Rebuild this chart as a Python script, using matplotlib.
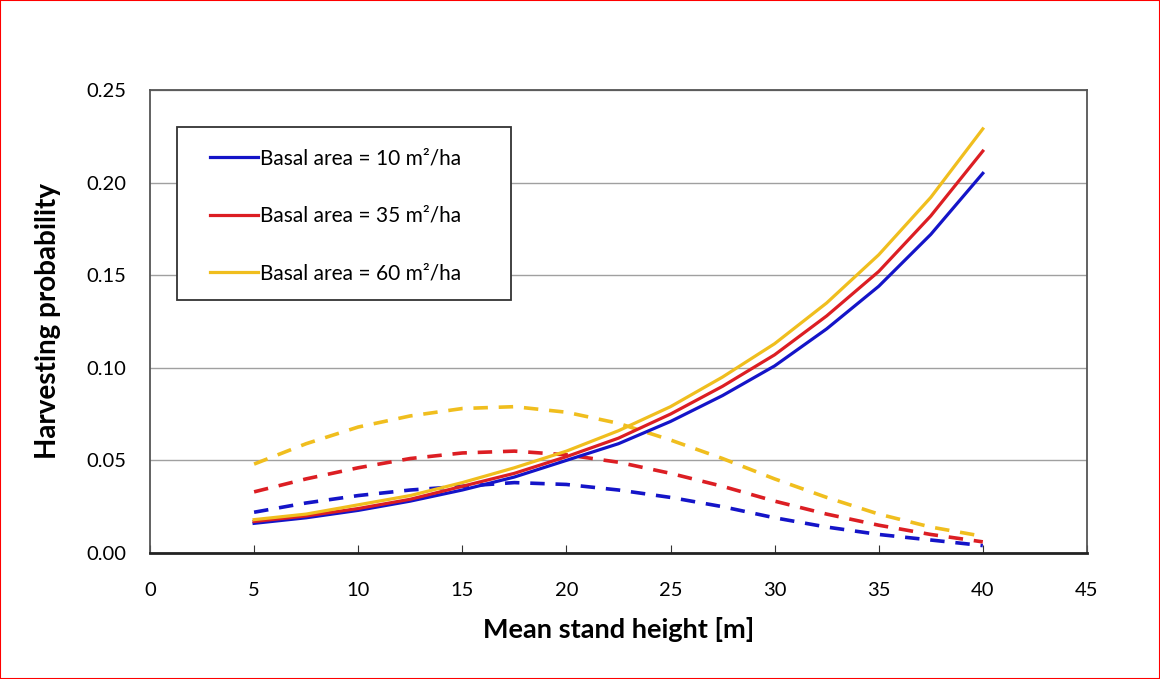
import numpy as np
import matplotlib
matplotlib.use("Agg")
import matplotlib.pyplot as plt
from matplotlib.patches import Rectangle

plt.rcParams['font.family'] = ['Lato', 'DejaVu Sans']

height = [5, 7.5, 10, 12.5, 15, 17.5, 20, 22.5, 25, 27.5, 30, 32.5, 35, 37.5, 40]

# solid curves
ba10_solid = [0.016, 0.019, 0.023, 0.028, 0.034, 0.041, 0.050, 0.059, 0.071, 0.085, 0.101, 0.121, 0.144, 0.172, 0.205]
ba35_solid = [0.017, 0.020, 0.024, 0.029, 0.036, 0.043, 0.052, 0.062, 0.075, 0.090, 0.107, 0.128, 0.152, 0.182, 0.217]
ba60_solid = [0.018, 0.021, 0.026, 0.031, 0.038, 0.046, 0.055, 0.066, 0.079, 0.095, 0.113, 0.135, 0.161, 0.192, 0.229]

# dashed curves
ba10_dash = [0.022, 0.027, 0.031, 0.034, 0.036, 0.038, 0.037, 0.034, 0.030, 0.025, 0.019, 0.014, 0.010, 0.007, 0.004]
ba35_dash = [0.033, 0.040, 0.046, 0.051, 0.054, 0.055, 0.053, 0.049, 0.043, 0.036, 0.028, 0.021, 0.015, 0.010, 0.006]
ba60_dash = [0.048, 0.059, 0.068, 0.074, 0.078, 0.079, 0.076, 0.070, 0.061, 0.051, 0.040, 0.030, 0.021, 0.014, 0.009]

labels = ['Basal area = 10 m²/ha', 'Basal area = 35 m²/ha', 'Basal area = 60 m²/ha']
colors = ['#1414C8', '#DC1E23', '#F0BE1E']

fig = plt.figure(figsize=(11.6, 6.79), dpi=100)
ax = fig.add_axes([0.1293, 0.1856, 0.8077, 0.6819])

for ys, c in zip([ba10_dash, ba35_dash, ba60_dash], colors):
    ax.plot(height, ys, color=c, lw=2.6, dashes=(4, 3), zorder=3)
for ys, c, lab in zip([ba10_solid, ba35_solid, ba60_solid], colors, labels):
    ax.plot(height, ys, color=c, lw=2.3, label=lab, zorder=4, solid_joinstyle='round')

ax.set_xlim(0, 45)
ax.set_ylim(0, 0.25)
ax.set_xticks(np.arange(0, 46, 5))
ax.set_yticks(np.arange(0, 0.26, 0.05))
ax.set_yticklabels(['0.00', '0.05', '0.10', '0.15', '0.20', '0.25'])
ax.yaxis.grid(True, color='#a0a0a0', lw=1)
ax.set_axisbelow(True)
ax.tick_params(axis='x', direction='in', length=6, labelsize=14.5, pad=21, color='#333333')
ax.tick_params(axis='y', length=0, labelsize=14.5, pad=17)
for s in ax.spines.values():
    s.set_color('#555555')
    s.set_linewidth(1.3)
ax.spines['bottom'].set_color('#222222')
ax.spines['bottom'].set_linewidth(2)

ax.set_xlabel('Mean stand height [m]', fontsize=19.5, fontweight='bold', labelpad=13)
ax.set_ylabel('Harvesting probability', fontsize=20, fontweight='bold', labelpad=18)

# legend without its own frame; the box is drawn separately to get the wider side margins
leg = ax.legend(loc='upper left', bbox_to_anchor=(0.0642, 0.874), fontsize=15,
                handlelength=2.3, handletextpad=0.1, labelspacing=1.8,
                borderpad=0, frameon=False, borderaxespad=0)
leg.set_zorder(6)
ax.add_patch(Rectangle((0.0289, 0.5464), 0.356, 0.3736, transform=ax.transAxes,
                       facecolor='white', edgecolor='#333333', lw=1.3, zorder=5))

fig.patches.append(Rectangle((0, 0), 1, 1, transform=fig.transFigure,
                             fill=False, edgecolor='red', lw=1.5))

fig.savefig('out.png', dpi=100)
